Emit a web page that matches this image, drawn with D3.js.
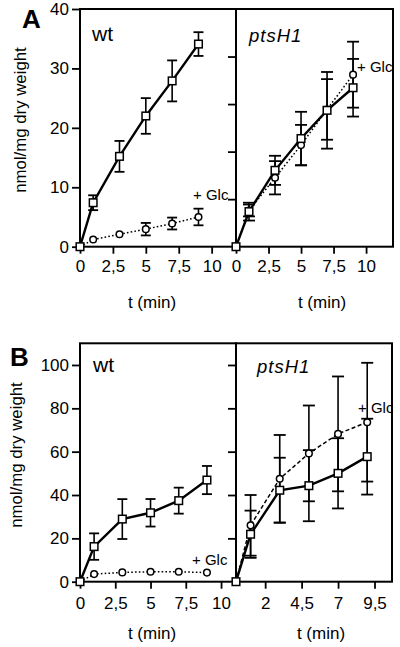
<!DOCTYPE html>
<html><head><meta charset="utf-8">
<script src="https://cdn.jsdelivr.net/npm/d3@7"></script>
<style>body{margin:0;background:#fff}svg{display:block}text{font-family:"Liberation Sans",Arial,sans-serif;fill:#000}</style>
</head><body><svg id="c" width="400" height="647"></svg>
<script>
// ---- data ----
const times = [0, 1, 3, 5, 7, 9];
// Panel A (0-40 nmol/mg)
const aWtCtrl = [0, 7.4, 15.2, 22.0, 27.9, 34.1];
const aWtCtrlSd = [0, 1.25, 2.6, 3.0, 3.45, 2.0];
const aWtGlc = [0, 1.2, 2.1, 2.95, 3.9, 5.0];
const aWtGlcSd = [0, 0, 0, 1.05, 1.0, 1.4];
const aPtsCtrl = [0, 5.9, 12.85, 18.2, 22.95, 26.75];
const aPtsCtrlSd = [0, 1.5, 2.45, 4.5, 6.45, 4.85];
const aPtsGlc = [0, 6.1, 11.6, 17.1, 23.1, 28.95];
const aPtsGlcSd = [0, 1.0, 2.8, 3.4, 5.1, 5.55];
// Panel B (0-110 nmol/mg)
const bWtCtrl = [0, 16.2, 28.9, 31.8, 37.4, 46.9];
const bWtCtrlSd = [0, 6.1, 9.2, 6.35, 6.0, 6.5];
const bWtGlc = [0, 3.5, 4.3, 4.6, 4.6, 4.2];
const bWtGlcSd = [0, 0, 0, 0, 0, 0];
const bPtsCtrl = [0, 21.9, 42.2, 44.3, 50.0, 57.7];
const bPtsCtrlSd = [0, 10.9, 15.0, 16.4, 16.2, 17.5];
const bPtsGlc = [0, 26.0, 47.5, 59.2, 68.2, 73.6];
const bPtsGlcSd = [0, 14.0, 20.2, 22.1, 26.5, 27.4];
// tick labels
const aXTicks = [0, 2.5, 5, 7.5, 10];
const bXTicksLeft = [0, 2.5, 5, 7.5, 10];
const bXTicksRight = [2, 4.5, 7, 9.5];
const aYTicks = [0, 10, 20, 30, 40];
const aYTicksRight = [8, 16, 24, 32];
const bYTicks = [0, 20, 40, 60, 80, 100];
const panelLetters = ["A", "B"];
const strainNames = ["wt", "ptsH1"];
const glcLabel = "+ Glc";
const yTitle = "nmol/mg dry weight";
const xTitle = "t (min)";

// ---- drawing ----
const svg = d3.select("#c");
const fmt = d => String(d).replace(".", ",");

function panel(cfg) {
  const g = svg.append("g");
  const x = d3.scaleLinear().domain([0, cfg.xmax]).range([cfg.x0, cfg.x1]);
  const y = cfg.y;
  // frame
  g.append("rect").attr("x", cfg.x0).attr("y", y.range()[1]).attr("width", cfg.x1 - cfg.x0)
    .attr("height", y.range()[0] - y.range()[1]).attr("fill", "none").attr("stroke", "#000").attr("stroke-width", 2);
  // x axis
  const xa = g.append("g").attr("transform", `translate(0,${y.range()[0]})`)
    .call(d3.axisBottom(x).tickValues(cfg.xticks).tickFormat(fmt).tickSize(7).tickPadding(cfg.xpad));
  xa.select(".domain").remove();
  xa.selectAll("line").attr("stroke-width", 1.8);
  xa.selectAll("text").attr("font-size", 17);
  // y axis
  const ya = g.append("g").attr("transform", `translate(${cfg.x0},0)`)
    .call(d3.axisLeft(y).tickValues(cfg.yticks).tickFormat(cfg.ylabels ? d => d : () => "").tickSize(8).tickPadding(3));
  ya.select(".domain").remove();
  ya.selectAll("line").attr("stroke-width", 1.8);
  ya.selectAll("text").attr("font-size", 17);

  // series
  const series = [
    {v: cfg.glc, sd: cfg.glcSd, dash: cfg.glcDash, w: 1.5, shape: "circle"},
    {v: cfg.ctrl, sd: cfg.ctrlSd, dash: null, w: 2.4, shape: "square"}
  ];
  series.forEach(s => {
    const pts = times.map((t, i) => ({t, v: s.v[i], sd: s.sd[i]}));
    g.append("path").datum(pts).attr("fill", "none").attr("stroke", "#000")
      .attr("stroke-width", s.w).attr("stroke-dasharray", s.dash)
      .attr("d", d3.line().x(d => x(d.t)).y(d => y(d.v)));
    const eb = g.append("g").selectAll("g").data(pts.filter(d => d.sd > 0)).join("g");
    eb.append("line").attr("x1", d => x(d.t)).attr("x2", d => x(d.t))
      .attr("y1", d => y(d.v - d.sd)).attr("y2", d => y(d.v + d.sd)).attr("stroke", "#000").attr("stroke-width", 1.6);
    [-1, 1].forEach(k => {
      eb.append("line").attr("x1", d => x(d.t) - cfg.cap).attr("x2", d => x(d.t) + cfg.cap)
        .attr("y1", d => y(d.v + k * d.sd)).attr("y2", d => y(d.v + k * d.sd)).attr("stroke", "#000").attr("stroke-width", 1.8);
    });
  });
  series.forEach(s => {
    const pts = times.map((t, i) => ({t, v: s.v[i]}));
    if (s.shape === "circle") {
      g.append("g").selectAll("circle").data(pts.slice(1)).join("circle")
        .attr("cx", d => x(d.t)).attr("cy", d => y(d.v)).attr("r", 3.3)
        .attr("fill", "#fff").attr("stroke", "#000").attr("stroke-width", 1.5);
    } else {
      g.append("g").selectAll("rect").data(pts).join("rect")
        .attr("x", d => x(d.t) - 3.8).attr("y", d => y(d.v) - 3.8).attr("width", 7.6).attr("height", 7.6)
        .attr("fill", "#fff").attr("stroke", "#000").attr("stroke-width", 1.5);
    }
  });
  // labels
  g.append("text").attr("x", cfg.x0 + cfg.nameDx).attr("y", cfg.nameY).attr("font-size", cfg.italic ? 18.5 : 21)
    .attr("font-style", cfg.italic ? "italic" : null).attr("letter-spacing", cfg.italic ? 1 : 0).text(cfg.name);
  g.append("text").attr("x", cfg.glcX).attr("y", cfg.glcY).attr("font-size", 15).text(glcLabel);
  g.append("text").attr("x", cfg.titleX).attr("y", cfg.titleY).attr("text-anchor", "middle").attr("font-size", 17).text(xTitle);
}

const yA = d3.scaleLinear().domain([0, 40]).range([246.7, 9]);
const yB = d3.scaleLinear().domain([0, 110]).range([581.7, 343.3]);

panel({x0: 80, x1: 236, xmax: 11.85, y: yA, xticks: aXTicks, xpad: 6, yticks: aYTicks, ylabels: true,
  ctrl: aWtCtrl, ctrlSd: aWtCtrlSd, glc: aWtGlc, glcSd: aWtGlcSd, glcDash: "1.6,2.2", cap: 5,
  name: strainNames[0], nameDx: 12, nameY: 40.5, glcX: 193, glcY: 200, titleX: 152, titleY: 308});
panel({x0: 236, x1: 393, xmax: 12.07, y: yA, xticks: aXTicks, xpad: 6, yticks: aYTicksRight, ylabels: false,
  ctrl: aPtsCtrl, ctrlSd: aPtsCtrlSd, glc: aPtsGlc, glcSd: aPtsGlcSd, glcDash: "1.6,2.2", cap: 6,
  name: strainNames[1], nameDx: 13, nameY: 41.5, italic: true, glcX: 357, glcY: 72, titleX: 322, titleY: 308});
panel({x0: 80, x1: 236, xmax: 11.06, y: yB, xticks: bXTicksLeft, xpad: 8, yticks: bYTicks, ylabels: true,
  ctrl: bWtCtrl, ctrlSd: bWtCtrlSd, glc: bWtGlc, glcSd: bWtGlcSd, glcDash: "1.6,2.2", cap: 5,
  name: strainNames[0], nameDx: 13, nameY: 372, glcX: 192, glcY: 565, titleX: 152, titleY: 639});
panel({x0: 236, x1: 392, xmax: 10.7, y: yB, xticks: bXTicksRight, xpad: 8, yticks: bYTicks.slice(1), ylabels: false,
  ctrl: bPtsCtrl, ctrlSd: bPtsCtrlSd, glc: bPtsGlc, glcSd: bPtsGlcSd, glcDash: "4,2.5", cap: 6,
  name: strainNames[1], nameDx: 21, nameY: 373, italic: true, glcX: 358, glcY: 413, titleX: 321, titleY: 639});

// y titles
[[20, 120], [16, 455]].forEach(([cx, cy]) => {
  svg.append("text").attr("transform", `translate(${cx},${cy}) rotate(-90)`).attr("text-anchor", "middle")
    .attr("dominant-baseline", "central").attr("font-size", 16.8).text(yTitle);
});
// panel letters
svg.append("text").attr("x", 22).attr("y", 28).attr("font-size", 26).attr("font-weight", "bold").text(panelLetters[0]);
svg.append("text").attr("x", 10).attr("y", 366).attr("font-size", 26).attr("font-weight", "bold").text(panelLetters[1]);
</script></body></html>
